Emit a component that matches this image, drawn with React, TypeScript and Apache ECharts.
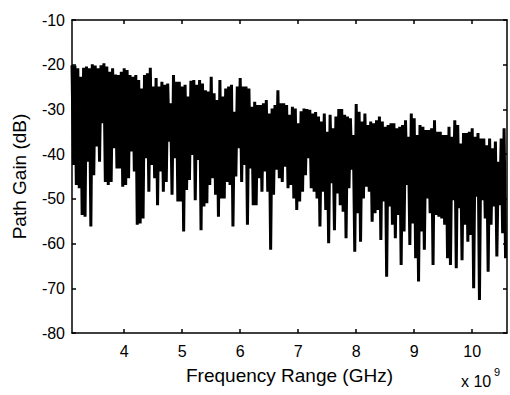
import { useEffect, useRef } from "react";
import * as echarts from "echarts";

// Frequency sampling (Hz)
const FREQ_MIN = 3.1e9;
const FREQ_MAX = 10.6e9;
const FREQ_STEP = 0.05e9;
const X_TICKS = [4e9, 5e9, 6e9, 7e9, 8e9, 9e9, 10e9];
const Y_MIN = -80;
const Y_MAX = -10;
const Y_STEP = 10;

// Local maxima of the path gain (dB), one per frequency bin
const peakGain = [
  -20.1, -20.2, -20.8, -22.7, -20.7, -20.4, -20.8, -19.9, -20.2, -20.8,
  -20.1, -19.7, -20.4, -21.6, -20.8, -22.2, -22.3, -21.6, -20.8, -21.2,
  -22.3, -22.7, -22.3, -23.4, -25.3, -22.3, -21.9, -20.7, -24.9, -23.0,
  -24.9, -23.8, -24.5, -24.2, -28.6, -22.3, -23.8, -23.8,
  -24.9, -24.5, -27.1, -23.6, -23.4, -24.5, -23.4, -24.2, -25.7, -26.0,
  -22.7, -26.4, -27.9, -23.4, -27.1, -25.3, -24.9, -24.5, -30.5, -24.9,
  -23.0, -24.9, -24.9, -25.3, -29.4, -28.3, -29.0, -29.0, -28.6, -27.9,
  -30.9, -29.8, -29.0, -25.7, -28.6, -28.6, -29.0, -31.2,
  -29.4, -29.8, -33.1, -30.4, -29.8, -29.9, -30.1, -30.9, -30.6, -31.6,
  -32.7, -30.9, -35.0, -31.2, -34.2, -31.6, -29.9, -29.9, -31.2, -31.6,
  -32.0, -35.7, -28.8, -30.5, -32.7, -30.9, -33.5, -32.7, -33.1, -32.4,
  -31.6, -32.7, -33.9, -33.5, -33.1, -33.1, -34.2, -33.9,
  -33.5, -32.4, -36.1, -30.9, -32.0, -35.7, -33.5, -33.9, -34.6, -34.6,
  -34.2, -32.4, -35.0, -35.0, -35.7, -35.7, -33.9, -36.1, -32.4, -33.5,
  -37.6, -35.3, -35.3, -35.0, -34.2, -36.1, -35.3, -36.5, -36.5, -38.0,
  -36.5, -38.7, -37.2, -41.7, -36.5, -34.2,
];

// Local minima of the path gain (dB), one per frequency bin
const dipGain = [
  -42.4, -46.9, -47.6, -53.6, -54.0, -41.7, -56.2, -44.7, -38.3, -41.7,
  -33.1, -46.2, -46.9, -46.2, -38.7, -43.2, -43.2, -47.3, -46.9, -45.4,
  -39.4, -43.9, -55.8, -55.5, -54.4, -40.9, -48.4, -42.4, -45.4, -51.4,
  -43.9, -48.4, -46.2, -37.2, -49.1, -40.9, -50.6, -50.6,
  -57.3, -48.0, -45.8, -40.2, -50.3, -41.3, -57.0, -51.7, -51.0, -46.9,
  -45.4, -49.1, -54.0, -49.9, -49.9, -46.2, -46.9, -56.2, -45.0, -38.7,
  -46.2, -42.4, -55.8, -43.2, -51.4, -51.4, -45.4, -48.4, -43.9, -48.4,
  -61.4, -49.1, -43.5, -45.4, -46.2, -42.8, -47.6, -46.9,
  -49.9, -52.5, -50.6, -48.4, -44.7, -40.9, -47.6, -48.4, -49.9, -56.2,
  -48.4, -52.5, -59.9, -46.5, -57.0, -48.8, -51.4, -52.9, -58.8, -47.6,
  -43.5, -61.8, -53.2, -59.6, -49.9, -47.3, -48.4, -55.1, -53.2, -52.5,
  -59.2, -50.6, -67.4, -51.7, -55.8, -58.8, -53.6, -64.8,
  -57.3, -46.9, -60.3, -55.5, -63.3, -68.5, -57.3, -61.4, -49.9, -53.2,
  -64.8, -53.6, -54.0, -54.4, -55.8, -63.3, -64.8, -50.3, -65.5, -52.1,
  -63.7, -55.8, -59.6, -58.1, -70.0, -49.5, -72.6, -50.3, -54.4, -66.3,
  -55.8, -51.7, -62.9, -51.4, -57.7, -63.3,
];

const FONT = "'Liberation Sans', Arial, Helvetica, sans-serif";

export default function App() {
  const ref = useRef<HTMLDivElement>(null);

  useEffect(() => {
    if (!ref.current) return;
    const chart = echarts.init(ref.current, null, { renderer: "svg" });

    const data: [number, number][] = [];
    for (let i = 0; i < peakGain.length; i++) {
      data.push([FREQ_MIN + i * FREQ_STEP, peakGain[i]]);
      data.push([FREQ_MIN + (i + 0.5) * FREQ_STEP, dipGain[i]]);
    }

    const axisLine = { show: true, lineStyle: { color: "#000", width: 1.5 } };
    const tickStyle = { color: "#000", width: 1.5 };

    chart.setOption({
      animation: false,
      backgroundColor: "#fff",
      grid: { left: 72, right: 3, top: 20, bottom: 62, containLabel: false },
      xAxis: [
        {
          type: "value",
          position: "bottom",
          min: FREQ_MIN,
          max: FREQ_MAX,
          axisLine,
          axisTick: { show: true, inside: true, length: 4, lineStyle: tickStyle, customValues: X_TICKS },
          axisLabel: {
            show: true,
            customValues: X_TICKS,
            formatter: (v: number) => String(Math.round(v / 1e9)),
            color: "#000",
            fontFamily: FONT,
            fontSize: 16,
            margin: 10,
          },
          splitLine: { show: false },
          name: "Frequency Range (GHz)",
          nameLocation: "middle",
          nameGap: 33,
          nameTextStyle: { color: "#000", fontFamily: FONT, fontSize: 19 },
        },
        {
          type: "value",
          position: "top",
          min: FREQ_MIN,
          max: FREQ_MAX,
          axisLine,
          axisTick: { show: true, inside: true, length: 4, lineStyle: tickStyle, customValues: X_TICKS },
          axisLabel: { show: false },
          splitLine: { show: false },
        },
      ],
      yAxis: [
        {
          type: "value",
          position: "left",
          min: Y_MIN,
          max: Y_MAX,
          interval: Y_STEP,
          axisLine,
          axisTick: { show: true, inside: true, length: 4, lineStyle: tickStyle },
          axisLabel: { color: "#000", fontFamily: FONT, fontSize: 16, margin: 7 },
          splitLine: { show: false },
          name: "Path Gain (dB)",
          nameLocation: "middle",
          nameGap: 43,
          nameRotate: 90,
          nameTextStyle: { color: "#000", fontFamily: FONT, fontSize: 19, padding: [0, 0, 0, 0] },
        },
        {
          type: "value",
          position: "right",
          min: Y_MIN,
          max: Y_MAX,
          interval: Y_STEP,
          axisLine,
          axisTick: { show: true, inside: true, length: 4, lineStyle: tickStyle },
          axisLabel: { show: false },
          splitLine: { show: false },
        },
      ],
      graphic: [
        {
          type: "text",
          left: 461,
          top: 373,
          style: { text: "x 10", fill: "#000", font: `16px ${FONT}` },
        },
        {
          type: "text",
          left: 494,
          top: 366,
          style: { text: "9", fill: "#000", font: `11px ${FONT}` },
        },
      ],
      series: [
        {
          type: "line",
          xAxisIndex: 0,
          yAxisIndex: 0,
          data,
          showSymbol: false,
          symbol: "none",
          lineStyle: { color: "#000", width: 3, join: "miter", miterLimit: 1.5 },
          clip: true,
        },
      ],
    });

    return () => chart.dispose();
  }, []);

  return (
    <div
      ref={ref}
      style={{ position: "fixed", left: 0, top: 0, width: 510, height: 395, background: "#fff" }}
    />
  );
}
